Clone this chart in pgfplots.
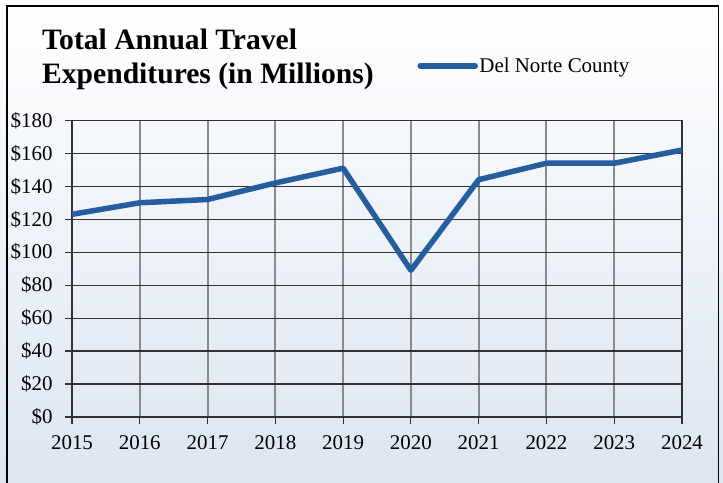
\documentclass[border=0pt]{standalone}
\usepackage{pgfplots}
\pgfplotsset{compat=1.18}
\usepackage{fontspec}
\setmainfont{Liberation Serif}
\definecolor{linec}{RGB}{36,94,158}
\definecolor{bgb}{RGB}{220,229,242}
\definecolor{gridv}{RGB}{138,138,138}
\definecolor{gridh}{RGB}{50,50,50}
\begin{document}
\begin{tikzpicture}[x=1bp,y=1bp]
\useasboundingbox (0,0) rectangle (723,483);
\shade[top color=white, bottom color=bgb] (0,0) rectangle (723,483);
\draw[line width=1.5bp] (6.8,-5) -- (6.8,477) -- (718.5,477) -- (718.5,-5);
\node[anchor=base west, inner sep=0, font=\fontsize{29.7}{30}\selectfont\bfseries] at (42,433.5) {Total Annual Travel};
\node[anchor=base west, inner sep=0, font=\fontsize{29.7}{30}\selectfont\bfseries] at (42,399.7) {Expenditures (in Millions)};
\begin{axis}[
  at={(72bp,66bp)}, anchor=south west,
  scale only axis, width=610bp, height=296.6bp,
  xmin=2015, xmax=2024, ymin=0, ymax=180,
  xtick={2015,2016,...,2024}, ytick={0,20,...,180},
  /pgf/number format/assume math mode=true,
  x tick label style={/pgf/number format/1000 sep={}, yshift=-8bp},
  y tick label style={xshift=-9bp},
  yticklabel={\$\pgfmathprintnumber{\tick}},
  tick label style={font=\fontsize{21}{24}\selectfont, text=black},
  tick align=outside, major tick length=7bp,
  xtick pos=bottom, ytick pos=left,
  tick style={line width=1.2bp, color=gridh},
  xmajorgrids, ymajorgrids,
  x grid style={line width=2bp, color=gridv},
  y grid style={line width=1.2bp, color=gridh},
  axis line style={line width=1.3bp, color=gridh},
  legend style={at={(axis description cs:0.566,1.184)}, anchor=west,
    draw=none, fill=none, inner sep=0pt,
    font=\fontsize{21}{24}\selectfont,
    nodes={inner sep=1.5bp}},
  legend cell align=left,
  legend image code/.code={\draw[line width=5.5bp, line cap=round, linec] (0bp,0bp) -- (55bp,0bp);},
]
\addplot[linec, line width=5.5bp, line join=round] coordinates {
  (2015,123) (2016,130) (2017,132) (2018,142) (2019,151)
  (2020,89) (2021,144) (2022,154) (2023,154) (2024,162)
};
\addlegendentry{Del Norte County}
\end{axis}
\end{tikzpicture}
\end{document}
